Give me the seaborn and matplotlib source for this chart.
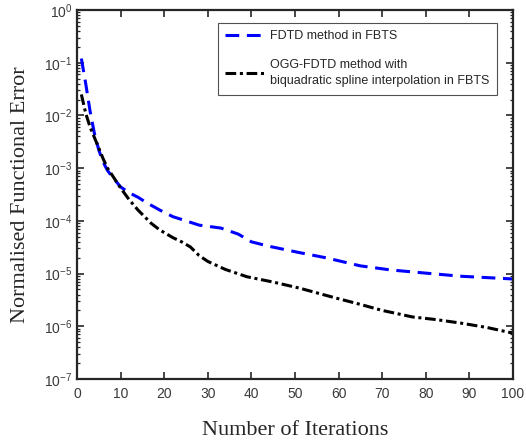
import numpy as np
import pandas as pd
import matplotlib
matplotlib.use("Agg")
import matplotlib.pyplot as plt
import seaborn as sns
from matplotlib.ticker import LogLocator, NullFormatter, FixedLocator

# Data
iter_fdtd = [1, 2, 3, 4, 5, 6, 7, 8, 10, 12, 14, 16, 19, 22, 25, 28, 33, 37, 40, 44,
             51, 57, 65, 72, 80, 88, 100]
err_fdtd = [1.2e-1, 4.0e-2, 1.2e-2, 4.5e-3, 2.2e-3, 1.3e-3, 9.0e-4, 7.0e-4, 4.4e-4, 3.4e-4,
            2.8e-4, 2.2e-4, 1.6e-4, 1.2e-4, 1.0e-4, 8.3e-5, 7.3e-5, 5.6e-5, 4.0e-5, 3.3e-5,
            2.5e-5, 2.0e-5, 1.4e-5, 1.17e-5, 1.02e-5, 8.9e-6, 7.9e-6]

iter_ogg = [1, 2, 3, 4, 5, 6, 7, 8, 10, 12, 14, 17, 19, 22, 24, 26, 28, 30, 34, 39,
            45, 51, 59, 65, 70, 77, 82, 88, 94, 100]
err_ogg = [2.5e-2, 1.1e-2, 6.0e-3, 3.8e-3, 2.4e-3, 1.5e-3, 1.0e-3, 7.5e-4, 4.2e-4, 2.5e-4,
           1.6e-4, 9.0e-5, 6.7e-5, 4.8e-5, 4.0e-5, 3.2e-5, 2.2e-5, 1.7e-5, 1.2e-5, 8.7e-6,
           6.9e-6, 5.3e-6, 3.5e-6, 2.6e-6, 2.0e-6, 1.5e-6, 1.35e-6, 1.15e-6, 0.95e-6, 7.4e-7]

label_fdtd = "FDTD method in FBTS"
label_ogg = "OGG-FDTD method with\nbiquadratic spline interpolation in FBTS"
x_ticks = [0, 10, 20, 30, 40, 50, 60, 70, 80, 90, 100]

sns.set_style("ticks")
plt.rcParams['font.family'] = ['Liberation Sans', 'DejaVu Sans']
plt.rcParams['mathtext.default'] = 'regular'

df = pd.concat([
    pd.DataFrame({"iter": iter_fdtd, "err": err_fdtd, "method": label_fdtd}),
    pd.DataFrame({"iter": iter_ogg, "err": err_ogg, "method": label_ogg}),
])

fig = plt.figure(figsize=(5.26, 4.41), dpi=100)
ax = fig.add_axes([0.1464, 0.1406, 0.8289, 0.8367])

sns.lineplot(data=df, x="iter", y="err", hue="method", style="method",
             palette={label_fdtd: "#0000ff", label_ogg: "#000000"},
             dashes={label_fdtd: (4.5, 2.5), label_ogg: (3.5, 1.2, 1.0, 1.2)},
             linewidth=2.2, ax=ax, legend=True)

ax.set_yscale("log")
ax.set_ylim(1e-7, 1e0)
ax.set_xlim(0, 100)
ax.xaxis.set_major_locator(FixedLocator(x_ticks))
ax.yaxis.set_major_locator(LogLocator(base=10, numticks=10))
ax.yaxis.set_minor_locator(LogLocator(base=10, subs=np.arange(2, 10), numticks=20))
ax.yaxis.set_minor_formatter(NullFormatter())

for s in ax.spines.values():
    s.set_linewidth(1.6)
    s.set_color("#262626")
ax.tick_params(axis="both", which="major", direction="in", length=5, width=1.2,
               top=True, right=True, labelsize=10, labelcolor="#3a3a3a", color="#262626")
ax.tick_params(axis="y", which="minor", direction="in", length=2.5, width=0.9,
               right=True, color="#262626")
ax.tick_params(axis="x", which="major", pad=6)

ax.set_xlabel("Number of Iterations", family=["Liberation Serif", "DejaVu Serif"],
              fontsize=16, labelpad=14)
ax.set_ylabel("Normalised Functional Error", family=["Liberation Serif", "DejaVu Serif"],
              fontsize=16, labelpad=10)

h, l = ax.get_legend_handles_labels()
leg = ax.legend(h, l, loc="upper right", bbox_to_anchor=(0.963, 0.965), borderaxespad=0,
                fontsize=9, frameon=True, fancybox=False, edgecolor="#262626",
                handlelength=3.3, borderpad=0.6, labelspacing=1.3, handletextpad=0.3)
leg.get_frame().set_linewidth(0.8)
for t in leg.get_texts():
    t.set_linespacing(1.5)

fig.savefig("out.png", dpi=100)
